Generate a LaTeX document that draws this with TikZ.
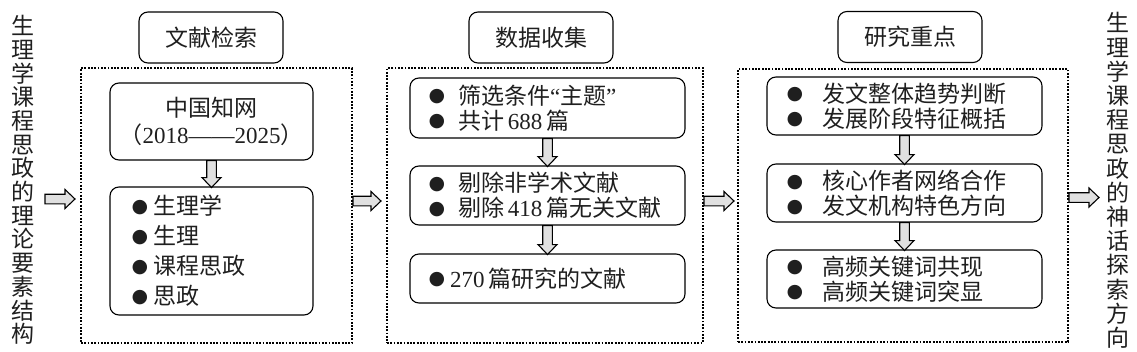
\documentclass[tikz,border=0pt]{standalone}
\usepackage{fontspec}
\setmainfont{Liberation Serif}
\newfontfamily\cjk{Noto Sans CJK SC}
\newfontfamily\lat{Liberation Serif}
\newfontfamily\djv{DejaVu Sans}
\newcommand\bl{\raisebox{2.3pt}{\djv\fontsize{19}{19}\selectfont ●}}
\newcommand\li[3]{\hspace*{#1}\makebox[0pt][c]{\bl}\hspace*{#2}#3}
\begin{document}
\begin{tikzpicture}[x=1pt,y=-1pt,
  txt/.style={font=\cjk\fontsize{23}{25}\selectfont, text=black!88},
  rbox/.style={draw, line width=1.1pt, rounded corners=9pt, inner sep=0pt, txt},
  dbox/.style={draw, line width=2pt, dash pattern=on 1.8pt off 1.5pt, inner sep=0pt},
  arrsty/.style={draw, line width=1.1pt, fill=black!12, line join=miter},
  blockarrow/.pic={\path[arrsty] (0,-4.8) -- (#1-10,-4.8) -- (#1-10,-9.5) -- (#1,0) -- (#1-10,9.5) -- (#1-10,4.8) -- (0,4.8) -- cycle;},
  lbox/.style={rbox, minimum width=275, text width=275, align=left}
]
\useasboundingbox (0,0) rectangle (1137,351);

% side texts
\node[txt, align=center, font=\cjk\fontsize{23}{23.7}\selectfont] (L) at (22.5,180)
  {生\\理\\学\\课\\程\\思\\政\\的\\理\\论\\要\\素\\结\\构};
\node[txt, align=center, font=\cjk\fontsize{23}{24.2}\selectfont] (R) at (1117.5,180.5)
  {生\\理\\学\\课\\程\\思\\政\\的\\神\\话\\探\\索\\方\\向};

% titles
\node[rbox, minimum width=144, minimum height=51] (T1) at (211,37.5) {文献检索};
\node[rbox, minimum width=144, minimum height=51] (T2) at (541,37.5) {数据收集};
\node[rbox, minimum width=144, minimum height=51] (T3) at (910,37) {研究重点};

% dotted frames
\node[dbox, minimum width=271, minimum height=275] (D1) at (216.5,205.5) {};
\node[dbox, minimum width=316, minimum height=275] (D2) at (545,205.5) {};
\node[dbox, minimum width=330, minimum height=273] (D3) at (903,205.5) {};

% column 1
\node[rbox, minimum width=203, minimum height=77, align=center,
      font=\cjk\fontsize{23}{27}\selectfont] (A1) at (211.5,121.5)
  {中国知网\\（{\lat 2018——2025}）};
\node[rbox, minimum width=203, text width=203, minimum height=128, align=left,
      font=\cjk\fontsize{23}{30}\selectfont] (B1) at (211.5,251)
  {\li{30pt}{13pt}{生理学}\\\li{30pt}{13pt}{生理}\\\li{30pt}{13pt}{课程思政}\\\li{30pt}{13pt}{思政}};

% column 2
\node[lbox, minimum height=60] (A2) at (547.5,108)
  {\li{27pt}{21pt}{筛选条件{\lat “}主题{\lat ”}}\\\li{27pt}{21pt}{共计\,{\lat 688}\,篇}};
\node[lbox, minimum height=59] (B2) at (547.5,195.5)
  {\li{27pt}{21pt}{剔除非学术文献}\\\li{27pt}{21pt}{剔除\,{\lat 418}\,篇无关文献}};
\node[lbox, minimum height=49] (C2) at (547.5,278.5)
  {\li{27pt}{13pt}{{\lat 270}\,篇研究的文献}};

% column 3
\node[lbox, minimum height=58] (A3) at (904.5,106)
  {\li{28pt}{27pt}{发文整体趋势判断}\\\li{28pt}{27pt}{发展阶段特征概括}};
\node[lbox, minimum height=58] (B3) at (904.5,193)
  {\li{28pt}{27pt}{核心作者网络合作}\\\li{28pt}{27pt}{发文机构特色方向}};
\node[lbox, minimum height=58] (C3) at (904.5,279)
  {\li{28pt}{27pt}{高频关键词共现}\\\li{28pt}{27pt}{高频关键词突显}};

% vertical arrows
\pic[rotate=-90] at (A1.south) {blockarrow=27};
\pic[rotate=-90] at (A2.south) {blockarrow=28};
\pic[rotate=-90] at (B2.south) {blockarrow=29};
\pic[rotate=-90] at (A3.south) {blockarrow=29};
\pic[rotate=-90] at (B3.south) {blockarrow=28};

% horizontal arrows
\pic at ([xshift=-35pt,yshift=6.5pt]D1.west) {blockarrow=30};
\pic at ([yshift=4.5pt]D1.east) {blockarrow=28};
\pic at ([yshift=4.5pt]D2.east) {blockarrow=30};
\pic at ([yshift=8pt]D3.east) {blockarrow=30};
\end{tikzpicture}
\end{document}
